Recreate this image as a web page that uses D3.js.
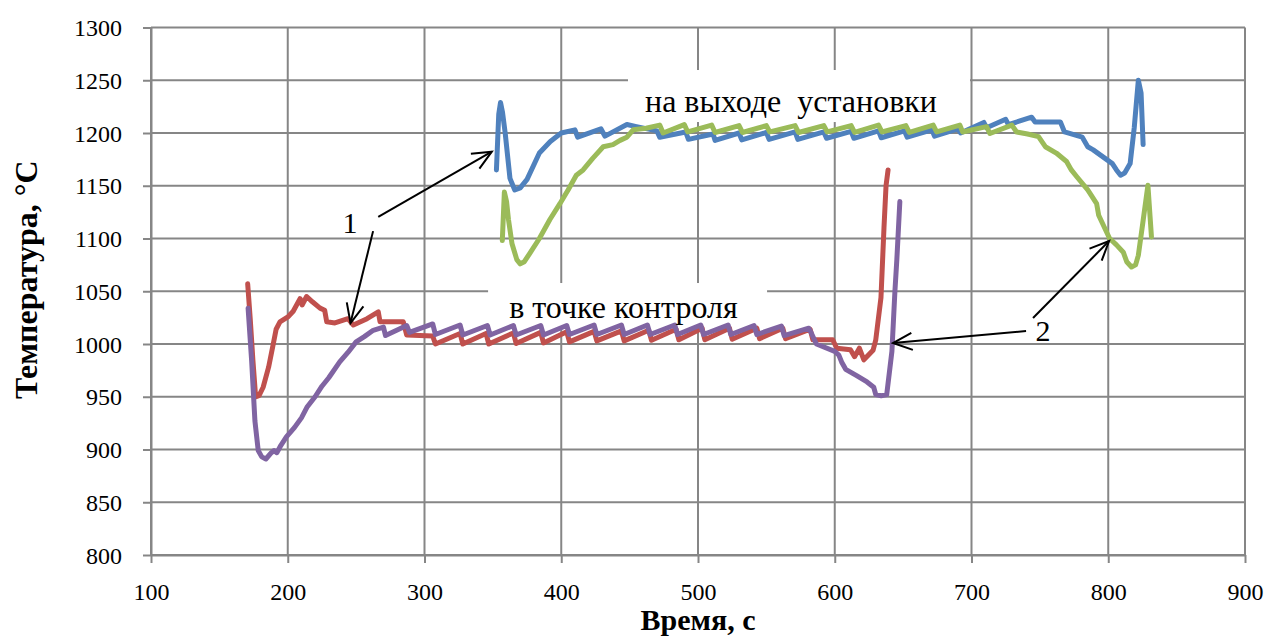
<!DOCTYPE html>
<html>
<head>
<meta charset="utf-8">
<script src="https://cdn.jsdelivr.net/npm/d3@7"></script>
<style>
  body { margin: 0; background: #fff; }
  svg text { font-family: "Liberation Serif", "Times New Roman", serif; fill: #000; }
</style>
</head>
<body>
<div id="chart"></div>
<script>
// series: [time, s ; temperature, °C]
var blueSeries = [[352.6,1165],[354.3,1218],[355.6,1229],[357,1220],[359,1200],[362.5,1157],[366,1146],[370,1148],[375,1156],[384,1181],[392,1192],[400,1200],[410,1203],[412,1196],[429,1204],[432,1197],[448,1208],[455,1206],[470,1202],[472,1196],[491,1201],[493,1194],[511,1199],[512.5,1193],[530,1200],[532,1193.5],[550,1200.5],[552,1194],[571,1201],[573,1194],[592,1201],[594,1195],[612,1201.5],[614,1195],[632,1202],[634,1195.5],[651,1202],[653,1196],[671,1203],[673,1197],[690,1204],[692,1200],[709,1210],[711,1205],[725,1213],[727,1208],[744,1215],[746.5,1210.5],[765,1210.5],[768,1201],[781,1196],[785,1187],[789,1184],[803,1171],[806,1165],[809,1160],[812,1162],[816,1171],[819,1205],[822,1250],[824,1238],[825.5,1189]];

var redSeries = [[170.7,1057],[172.5,1025],[174.5,985],[176.5,950],[179,951],[182,959],[186,978],[189.4,1000],[191.5,1014],[194.3,1021],[200.4,1026],[204,1031],[209,1043],[210.5,1037],[213.8,1045],[218,1040],[223.6,1034],[227,1032],[228.5,1021],[234.5,1020],[244,1024],[248,1018],[258,1024],[266.2,1030.5],[267.5,1021],[284.5,1021],[287,1008.5],[306,1007.5],[308,1000],[326,1010],[328,1000],[345,1010],[347,1000],[365,1010.5],[367,1000.5],[385,1011],[387,1001],[404,1011.5],[406,1002],[424,1012],[426,1003],[444,1012.5],[446,1003],[464,1013],[466,1003.5],[484,1014],[486,1004],[503,1015],[505,1004],[523,1015],[525,1004.5],[543,1015],[545,1005],[562,1015],[564,1005],[582,1014],[584,1004],[598.5,1004],[601.5,996],[611.5,994.5],[614.5,988],[618,996],[621.3,985],[628,994],[630,1004],[633.8,1044],[636,1110],[637.5,1150],[639,1165]];

var greenSeries = [[356.9,1098],[358.4,1144],[360,1135],[361.4,1118],[364,1095],[367.5,1080],[370,1076],[373,1078],[377,1086],[384,1100],[391.7,1118],[399,1133],[405,1146],[411,1160],[416,1165],[423,1176],[430.7,1187],[437.8,1189],[443,1193],[448,1196],[452.6,1203],[462,1204.5],[472,1207.5],[474.5,1200],[490,1208],[492.5,1201],[510,1207.5],[512.5,1200.5],[530,1207],[532.5,1200.5],[550,1207],[552.5,1201],[571,1207],[573.5,1200.5],[592,1207],[594.5,1201],[612,1207],[614.5,1200.5],[632,1207.5],[634.5,1201],[652,1207],[654.5,1200.5],[672,1207.5],[674.5,1201],[691.5,1207.5],[693.5,1201],[711,1206],[713.5,1199.5],[729.5,1207.5],[733,1201],[741,1199],[749,1196.5],[754,1187],[762,1181],[769.5,1173],[773,1165],[777,1158.5],[785,1146],[791.5,1133],[793,1122],[801,1100],[806,1094],[811,1087],[813.5,1078],[817,1073],[820,1075],[822,1084],[825.5,1117],[829,1150.5],[831.6,1101.5]];

var purpleSeries = [[171,1034],[173.6,984],[176,927],[178.4,899],[181,893],[184,891],[188,897],[190,899],[192,897],[195,904],[199,912],[205,921],[210,930],[214,940],[220,950],[225,960],[230,968],[238,983],[244,992],[250,1002],[256,1007],[262.5,1013],[270,1016],[271.5,1008],[287,1017.5],[289,1011],[306,1019],[308,1009],[326,1018],[328,1008.5],[346,1017.5],[348,1008.5],[365,1017.5],[367,1008.5],[385,1017.5],[387,1008.5],[404,1017.5],[406,1009],[424,1018],[426,1009],[444,1018],[446,1009],[463,1018],[465,1009],[483,1018],[485,1009],[502,1018],[504,1009],[522,1018],[524,1009],[541,1017.5],[543,1009],[561,1017],[563,1008],[581,1015],[583,1010],[586.6,1000],[600,993],[603,989.5],[605,983],[608,976],[616,970],[623.6,964],[628.5,959],[630,952],[634,951],[638,952],[641.8,993],[644,1050],[645.4,1080],[647.6,1135]];

var seriesColors = ["#4F81BD", "#C0504D", "#9BBB59", "#8064A2"];
var xTicks = [100, 200, 300, 400, 500, 600, 700, 800, 900];
var yTicks = [800, 850, 900, 950, 1000, 1050, 1100, 1150, 1200, 1250, 1300];

// annotation boxes, labels and arrows (data units)
var textBoxes = [
  {x0: 448.8, x1: 698.9, y0: 1210.4, y1: 1259.7, tx: 568, ty: 1220, label: "на выходе\u00a0 установки"},
  {x0: 346.5, x1: 550.5, y0: 1016, y1: 1057.8, tx: 445.5, ty: 1025, label: "в точке контроля"}
];
var numLabels = [{x: 245.5, y: 1115, label: "1"}, {x: 752.3, y: 1013, label: "2"}];
var arrows = [
  [266.2, 1120.6, 349.2, 1182.3],
  [262.4, 1107, 245.9, 1019.9],
  [745, 1024.6, 800.6, 1097.6],
  [739.9, 1012.3, 642.6, 1000.9]
];

var width = 1273, height = 639;
var serif = '"Liberation Serif", "Times New Roman", serif';
var x = d3.scaleLinear().domain([100, 900]).range([151, 1245]);
var y = d3.scaleLinear().domain([800, 1300]).range([555, 27.5]);
var gridColor = "#868686";

var svg = d3.select("#chart").append("svg")
  .attr("width", width)
  .attr("height", height);

svg.append("rect").attr("width", width).attr("height", height).attr("fill", "#fff");

// grid
svg.append("g").selectAll("line.h")
  .data(yTicks)
  .enter().append("line")
  .attr("x1", x(100)).attr("x2", x(900))
  .attr("y1", function(d) { return y(d); })
  .attr("y2", function(d) { return y(d); })
  .attr("stroke", gridColor).attr("stroke-width", 2);

svg.append("g").selectAll("line.v")
  .data(xTicks)
  .enter().append("line")
  .attr("y1", y(800)).attr("y2", y(1300))
  .attr("x1", function(d) { return x(d); })
  .attr("x2", function(d) { return x(d); })
  .attr("stroke", gridColor).attr("stroke-width", 2);

// axes
var yAxis = svg.append("g")
  .attr("transform", "translate(" + x(100) + ",0)")
  .call(d3.axisLeft(y).tickValues(yTicks).tickFormat(d3.format("d")).tickSizeInner(8).tickSizeOuter(0).tickPadding(21));
var xAxis = svg.append("g")
  .attr("transform", "translate(0," + y(800) + ")")
  .call(d3.axisBottom(x).tickValues(xTicks).tickFormat(d3.format("d")).tickSizeInner(8).tickSizeOuter(0).tickPadding(20));

[yAxis, xAxis].forEach(function(a) {
  a.attr("font-family", serif).attr("font-size", 24);
  a.select(".domain").attr("stroke", gridColor).attr("stroke-width", 2);
  a.selectAll(".tick line").attr("stroke", gridColor).attr("stroke-width", 2);
  a.selectAll(".tick text")
    .style("font-family", serif)
    .style("font-size", "24px")
    .attr("fill", "#000");
});
yAxis.selectAll(".tick text").attr("dy", "0.34em");

// white text boxes
svg.append("g").selectAll("rect")
  .data(textBoxes)
  .enter().append("rect")
  .attr("x", function(d) { return x(d.x0); })
  .attr("y", function(d) { return y(d.y1); })
  .attr("width", function(d) { return x(d.x1) - x(d.x0); })
  .attr("height", function(d) { return y(d.y0) - y(d.y1); })
  .attr("fill", "#fff");

// curves
var line = d3.line()
  .x(function(d) { return x(d[0]); })
  .y(function(d) { return y(d[1]); });

[blueSeries, redSeries, greenSeries, purpleSeries].forEach(function(s, i) {
  svg.append("path")
    .datum(s)
    .attr("d", line)
    .attr("fill", "none")
    .attr("stroke", seriesColors[i])
    .attr("stroke-width", 5)
    .attr("stroke-linejoin", "round")
    .attr("stroke-linecap", "round");
});

// box labels
svg.append("g").selectAll("text")
  .data(textBoxes)
  .enter().append("text")
  .attr("x", function(d) { return x(d.tx); })
  .attr("y", function(d) { return y(d.ty); })
  .attr("text-anchor", "middle")
  .style("font-family", serif)
  .style("font-size", "32px")
  .text(function(d) { return d.label; });

svg.append("g").selectAll("text")
  .data(numLabels)
  .enter().append("text")
  .attr("x", function(d) { return x(d.x); })
  .attr("y", function(d) { return y(d.y); })
  .attr("dy", "0.35em")
  .attr("text-anchor", "middle")
  .style("font-family", serif)
  .style("font-size", "30px")
  .text(function(d) { return d.label; });

// arrows with open heads
var arrowG = svg.append("g").attr("stroke", "#000").attr("stroke-width", 2).attr("fill", "none");
arrows.forEach(function(a) {
  var x1 = x(a[0]), y1 = y(a[1]), x2 = x(a[2]), y2 = y(a[3]);
  var ang = Math.atan2(y2 - y1, x2 - x1), len = 21, spread = 0.42;
  arrowG.append("line").attr("x1", x1).attr("y1", y1).attr("x2", x2).attr("y2", y2);
  arrowG.append("path")
    .attr("d", "M" + (x2 - len * Math.cos(ang - spread)) + "," + (y2 - len * Math.sin(ang - spread)) +
      "L" + x2 + "," + y2 +
      "L" + (x2 - len * Math.cos(ang + spread)) + "," + (y2 - len * Math.sin(ang + spread)));
});

// axis titles
svg.append("text")
  .attr("x", x(500))
  .attr("y", 630)
  .attr("text-anchor", "middle")
  .attr("font-weight", "bold")
  .style("font-family", serif)
  .style("font-size", "30px")
  .text("Время, с");

svg.append("text")
  .attr("transform", "translate(37," + y(1061) + ")rotate(-90)")
  .attr("text-anchor", "middle")
  .attr("font-weight", "bold")
  .style("font-family", serif)
  .style("font-size", "32px")
  .text("Температура, °С");
</script>
</body>
</html>
